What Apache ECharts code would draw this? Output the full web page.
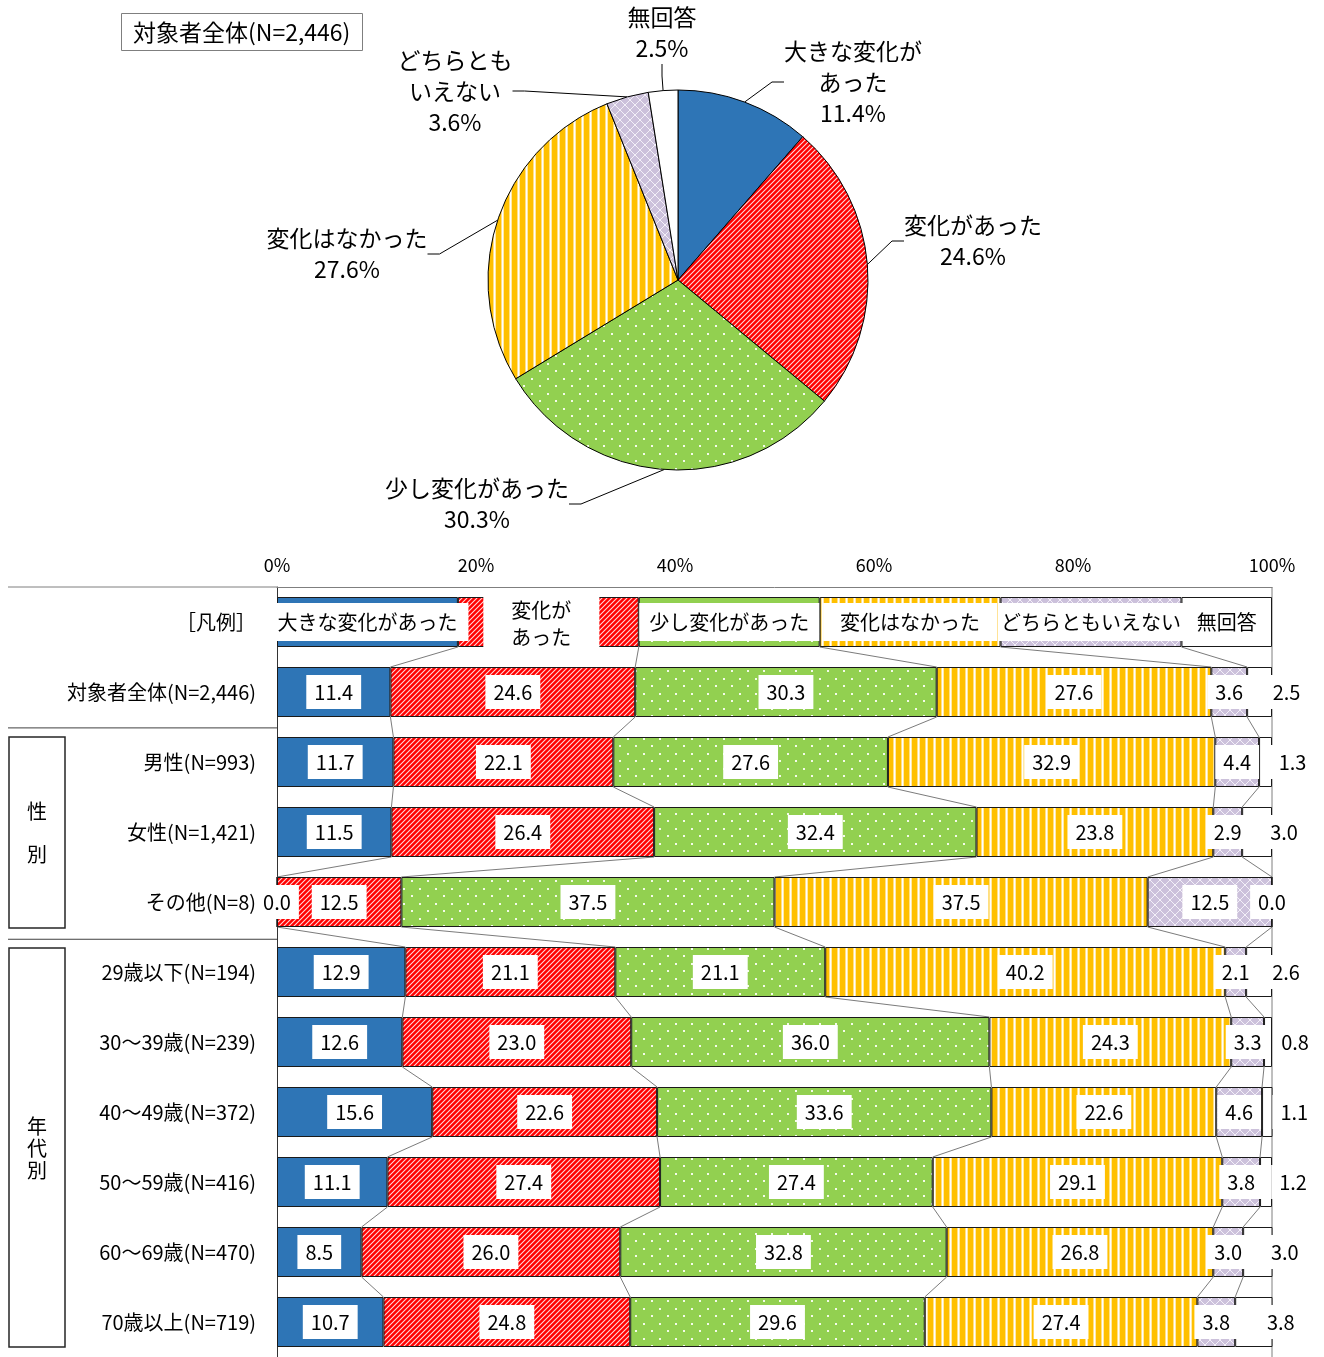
<!DOCTYPE html>
<html>
<head>
<meta charset="utf-8">
<script src="https://cdn.jsdelivr.net/npm/echarts@6/dist/echarts.min.js"></script>
<style>
  html, body { margin: 0; padding: 0; background: #fff; }
  #chart { width: 1324px; height: 1357px; }
</style>
</head>
<body>
<div id="chart"></div>
<script>
// ---- data ----
const seriesNames = ['大きな変化があった', '変化があった', '少し変化があった', '変化はなかった', 'どちらともいえない', '無回答'];
const legendLabels = ['大きな変化があった', '変化が\nあった', '少し変化があった', '変化はなかった', 'どちらともいえない', '無回答'];
const pieLabels = ['大きな変化が\nあった', '変化があった', '少し変化があった', '変化はなかった', 'どちらとも\nいえない', '無回答'];

const categories = ['［凡例］', '対象者全体(N=2,446)', '男性(N=993)', '女性(N=1,421)', 'その他(N=8)',
  '29歳以下(N=194)', '30～39歳(N=239)', '40～49歳(N=372)', '50～59歳(N=416)', '60～69歳(N=470)', '70歳以上(N=719)'];

// width of each key swatch in the legend row
const legendSpan = [18.18, 18.18, 18.18, 18.18, 18.18, 9.1];

const bigChange   = [11.4, 11.7, 11.5, 0.0, 12.9, 12.6, 15.6, 11.1, 8.5, 10.7];
const change      = [24.6, 22.1, 26.4, 12.5, 21.1, 23.0, 22.6, 27.4, 26.0, 24.8];
const smallChange = [30.3, 27.6, 32.4, 37.5, 21.1, 36.0, 33.6, 27.4, 32.8, 29.6];
const noChange    = [27.6, 32.9, 23.8, 37.5, 40.2, 24.3, 22.6, 29.1, 26.8, 27.4];
const neither     = [3.6, 4.4, 2.9, 12.5, 2.1, 3.3, 4.6, 3.8, 3.0, 3.8];
const noAnswer    = [2.5, 1.3, 3.0, 0.0, 2.6, 0.8, 1.1, 1.2, 3.0, 3.8];

// whole-sample breakdown shown in the pie
const overall = [11.4, 24.6, 30.3, 27.6, 3.6, 2.5];

// ---- layout ----
const FONT = '"Noto Sans CJK JP", "Noto Sans", sans-serif';
const GRID_LEFT = 277, GRID_RIGHT_X = 1272, GRID_TOP = 587;
const BAND = 70.45;
const BAR_W = 50, BAR_HALF = BAR_W / 2;
const pieLabelAt = [[853, 82], [973, 241], [477, 504], [347, 254], [455, 91], [662, 33]];
const legendLabelStyle = [
  { padding: [8, 11] },
  { padding: [0, 28], lineHeight: 27, offset: [-7, 2] },
  { padding: [8, 10] },
  { padding: [8, 17] },
  { padding: [8, 2] },
  { padding: [8, 4], offset: [0, 0] }
];

// ---- fills ----
function pattern(w, h, draw) {
  const c = document.createElement('canvas');
  c.width = w; c.height = h;
  draw(c.getContext('2d'), w, h);
  return { image: c, repeat: 'repeat' };
}
const fills = [
  '#2E75B6',
  pattern(5, 5, (g) => {
    g.fillStyle = '#FF0000'; g.fillRect(0, 0, 5, 5);
    g.strokeStyle = 'rgba(255,255,255,0.85)'; g.lineWidth = 1.1;
    g.beginPath();
    g.moveTo(-1, 6); g.lineTo(6, -1);
    g.moveTo(-1, 1); g.lineTo(1, -1);
    g.moveTo(4, 6); g.lineTo(6, 4);
    g.stroke();
  }),
  pattern(16, 15, (g) => {
    g.fillStyle = '#92D050'; g.fillRect(0, 0, 16, 15);
    g.fillStyle = '#F4FBEA';
    g.fillRect(3, 3, 2, 2); g.fillRect(11, 10, 2, 2);
  }),
  pattern(8, 1, (g) => {
    g.fillStyle = '#FFC000'; g.fillRect(0, 0, 5, 1);
    g.fillStyle = '#FFE08A'; g.fillRect(5, 0, 1, 1);
    g.fillStyle = '#FFFFFF'; g.fillRect(6, 0, 1, 1);
    g.fillStyle = '#FFE9A8'; g.fillRect(7, 0, 1, 1);
  }),
  pattern(10, 10, (g) => {
    g.fillStyle = '#CCC1DB'; g.fillRect(0, 0, 10, 10);
    g.strokeStyle = '#F3F0F8'; g.lineWidth = 1;
    g.beginPath();
    g.moveTo(0, 0); g.lineTo(10, 10);
    g.moveTo(10, 0); g.lineTo(0, 10);
    g.stroke();
  }),
  '#FFFFFF'
];

const seriesValues = [bigChange, change, smallChange, noChange, neither, noAnswer];

// connector lines between the segment boundaries of neighbouring rows
const rowsAll = categories.map((_, r) => seriesValues.map((vals, k) => r === 0 ? legendSpan[k] : vals[r - 1]));
const connectors = [];
for (let r = 0; r < rowsAll.length - 1; r++) {
  let a = 0, b = 0;
  for (let k = 0; k < 5; k++) {
    a += rowsAll[r][k];
    b += rowsAll[r + 1][k];
    connectors.push([+a.toFixed(2), +b.toFixed(2), r]);
  }
}

const barSeries = seriesNames.map((name, k) => ({
  type: 'bar',
  name,
  stack: 'total',
  barWidth: BAR_W,
  silent: true,
  z: 2,
  itemStyle: { color: fills[k], borderColor: '#1a1a1a', borderWidth: 1 },
  label: {
    show: true,
    position: 'inside',
    formatter: (p) => p.dataIndex === 0 ? legendLabels[k] : Number(p.value).toFixed(1),
    fontFamily: FONT,
    fontSize: 20,
    lineHeight: 22,
    color: '#000',
    backgroundColor: '#fff',
    padding: [6, 8],
    offset: k === 5 ? [27, 0] : [0, 0]
  },
  data: [{ value: legendSpan[k], label: legendLabelStyle[k] }].concat(
    seriesValues[k].map((v) => (k === 5 && v === 0) ? { value: v, label: { offset: [0, 0] } } : v)
  )
}));

const chart = echarts.init(document.getElementById('chart'), null, { renderer: 'canvas' });

const graphics = [
  { type: 'line', shape: { x1: 8, y1: GRID_TOP, x2: GRID_LEFT, y2: GRID_TOP }, style: { stroke: '#7f7f7f', lineWidth: 1 } },
  { type: 'line', shape: { x1: 8, y1: GRID_TOP + 2 * BAND, x2: GRID_LEFT, y2: GRID_TOP + 2 * BAND }, style: { stroke: '#404040', lineWidth: 1 } },
  { type: 'line', shape: { x1: 8, y1: GRID_TOP + 5 * BAND, x2: GRID_LEFT, y2: GRID_TOP + 5 * BAND }, style: { stroke: '#404040', lineWidth: 1 } },
  { type: 'rect', shape: { x: 9, y: 737, width: 56, height: 191 }, style: { fill: '#fff', stroke: '#262626', lineWidth: 1.5 } },
  { type: 'rect', shape: { x: 9, y: 948, width: 56, height: 399 }, style: { fill: '#fff', stroke: '#262626', lineWidth: 1.5 } },
  { type: 'text', x: 37, y: 811, style: { text: '性', font: '20px ' + FONT, fill: '#000', align: 'center', verticalAlign: 'middle' } },
  { type: 'text', x: 37, y: 854, style: { text: '別', font: '20px ' + FONT, fill: '#000', align: 'center', verticalAlign: 'middle' } },
  { type: 'text', x: 37, y: 1126, style: { text: '年', font: '20px ' + FONT, fill: '#000', align: 'center', verticalAlign: 'middle' } },
  { type: 'text', x: 37, y: 1148, style: { text: '代', font: '20px ' + FONT, fill: '#000', align: 'center', verticalAlign: 'middle' } },
  { type: 'text', x: 37, y: 1170, style: { text: '別', font: '20px ' + FONT, fill: '#000', align: 'center', verticalAlign: 'middle' } }
];

chart.setOption({
  animation: false,
  backgroundColor: '#fff',
  textStyle: { fontFamily: FONT },
  title: {
    text: '対象者全体(N=2,446)',
    left: 121, top: 13,
    padding: [5, 12],
    borderColor: '#7f7f7f', borderWidth: 1,
    textStyle: { fontFamily: FONT, fontSize: 23, fontWeight: 'normal', color: '#000', lineHeight: 28 }
  },
  grid: { left: GRID_LEFT, right: 1324 - GRID_RIGHT_X, top: GRID_TOP, height: BAND * categories.length, containLabel: false },
  xAxis: {
    type: 'value', position: 'top', min: 0, max: 100, interval: 20,
    axisLabel: { formatter: '{value}%', fontFamily: FONT, fontSize: 18, color: '#000', margin: 13 },
    axisLine: { show: true, lineStyle: { color: '#7f7f7f', width: 1 } },
    axisTick: { show: false },
    splitLine: { show: false }
  },
  yAxis: {
    type: 'category', inverse: true, data: categories,
    axisLabel: { fontFamily: FONT, fontSize: 20, color: '#000', margin: 21 },
    axisLine: { show: true, lineStyle: { color: '#333', width: 1 } },
    axisTick: { show: false },
    splitLine: { show: false }
  },
  graphic: graphics,
  series: [
    {
      // right-hand frame line at 100%, kept under the bars and their labels
      type: 'custom',
      coordinateSystem: 'cartesian2d',
      silent: true,
      z: 1,
      encode: { x: 0, y: 1 },
      data: [[100, 0]],
      renderItem: (params, api) => {
        const x = api.coord([api.value(0), 0])[0];
        const cs = params.coordSys;
        return {
          type: 'line',
          shape: { x1: x, y1: cs.y, x2: x, y2: cs.y + cs.height },
          style: { stroke: '#7f7f7f', lineWidth: 1 }
        };
      }
    },
    {
      type: 'custom',
      coordinateSystem: 'cartesian2d',
      silent: true,
      z: 1,
      encode: { x: [0, 1], y: 2 },
      data: connectors,
      renderItem: (params, api) => {
        const r = api.value(2);
        const a = api.coord([api.value(0), r]);
        const b = api.coord([api.value(1), r + 1]);
        return {
          type: 'line',
          shape: { x1: a[0], y1: a[1] + BAR_HALF, x2: b[0], y2: b[1] - BAR_HALF },
          style: { stroke: '#595959', lineWidth: 0.8 }
        };
      }
    },
    ...barSeries,
    {
      type: 'pie',
      center: [678, 280],
      radius: 190,
      startAngle: 90,
      clockwise: true,
      silent: true,
      avoidLabelOverlap: false,
      itemStyle: { borderColor: '#000', borderWidth: 1 },
      label: {
        show: true,
        position: 'outside',
        formatter: (p) => pieLabels[p.dataIndex] + '\n' + Number(p.value).toFixed(1) + '%',
        fontFamily: FONT, fontSize: 23, lineHeight: 31, color: '#000', align: 'center'
      },
      labelLine: { show: true, length: 12, length2: 12, lineStyle: { color: '#000', width: 1 } },
      labelLayout: (p) => ({ x: pieLabelAt[p.dataIndex][0], y: pieLabelAt[p.dataIndex][1], align: 'center', verticalAlign: 'middle' }),
      data: overall.map((v, i) => ({ name: seriesNames[i], value: v, itemStyle: { color: fills[i] } }))
    }
  ]
});
</script>
</body>
</html>
